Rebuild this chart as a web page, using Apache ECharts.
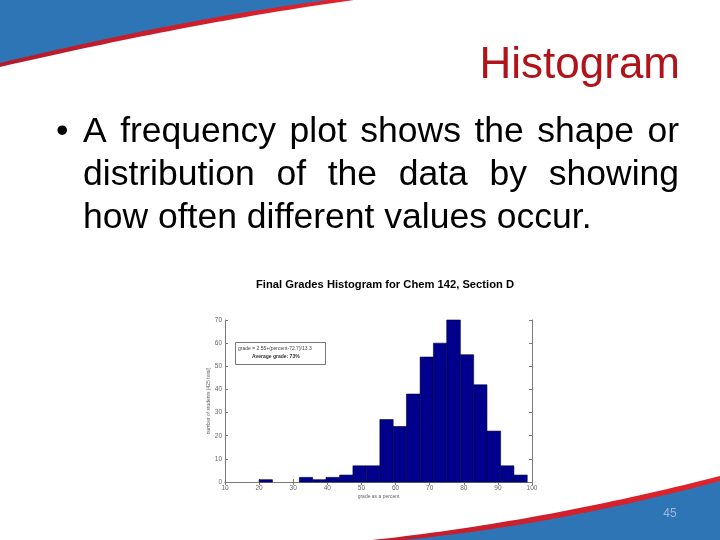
<!DOCTYPE html>
<html><head><meta charset="utf-8">
<script src="https://cdn.jsdelivr.net/npm/echarts/dist/echarts.min.js"></script>
<style>html,body{margin:0;padding:0;background:#fff}#c{width:720px;height:540px}</style>
</head><body><div id="c"></div>
<script>
// ---- data ----
const binEdges = [20.0, 23.9, 27.9, 31.8, 35.7, 39.6, 43.6, 47.5, 51.4, 55.4, 59.3, 63.2, 67.2, 71.1, 75.0, 79.0, 82.9, 86.8, 90.8, 94.7, 98.6];
const counts   = [1, 0, 0, 2, 1, 2, 3, 7, 7, 27, 24, 38, 54, 60, 70, 55, 42, 22, 7, 3];
const xTickMin = 10, xTickMax = 100, xTickStep = 10;
const yTickMin = 0, yTickMax = 70, yTickStep = 10;
const slideTitle = 'Histogram';
const bulletLines = ['A frequency plot shows the shape or', 'distribution of the data by showing', 'how often different values occur.'];
const chartTitle = 'Final Grades Histogram for Chem 142, Section D';
const xName = 'grade as a percent';
const yName = 'number of students (425 total)';
const noteLines = ['grade = 2.55+(percent-72.7)/13.3', 'Average grade: 73%'];
const pageNum = '45';

// ---- helpers ----
const cv = document.createElement('canvas').getContext('2d');
function measure(t, font) { cv.font = font; return cv.measureText(t).width; }
function quad(p0, p1, p2, n) {
  const pts = [];
  for (let i = 0; i <= n; i++) {
    const t = i / n, a = (1-t)*(1-t), b = 2*(1-t)*t, c = t*t;
    pts.push([a*p0[0]+b*p1[0]+c*p2[0], a*p0[1]+b*p1[1]+c*p2[1]]);
  }
  return pts;
}

const FAM = "'Liberation Sans', Arial, sans-serif";
const bodySize = 35.5;
const bodyFont = bodySize + 'px ' + FAM;
const titleSize = 44;
const MID = 0.347; // em-box middle above baseline
const graphics = [];

// swooshes
const redTop = [[0,0]].concat(quad([376,-3],[208,19],[0,67],40));
const blueTop = [[0,0]].concat(quad([345,-2],[200,15],[0,63],40));
const redBot = quad([372,540],[540,522],[720,476],40).concat([[720,540]]);
const blueBot = quad([392,541],[548,527],[720,481],40).concat([[720,541]]);
graphics.push({type:'polygon', z:1, shape:{points:redTop},
  style:{fill:{type:'linear',x:0,y:0,x2:1,y2:0,colorStops:[{offset:0,color:'#b21c2e'},{offset:1,color:'#e8222a'}]}}});
graphics.push({type:'polygon', z:2, shape:{points:blueTop}, style:{fill:'#2e75b6'}});
graphics.push({type:'polygon', z:1, shape:{points:redBot},
  style:{fill:{type:'linear',x:0,y:0,x2:1,y2:0,colorStops:[{offset:0,color:'#c01c2c'},{offset:1,color:'#e0242c'}]}}});
graphics.push({type:'polygon', z:2, shape:{points:blueBot}, style:{fill:'#2e75b6'}});
graphics.push({type:'text', z:3, x:670, y:514, style:{text:pageNum, font:'12px '+FAM, fill:'#9fb9de', align:'center', verticalAlign:'middle'}});

// slide title
graphics.push({type:'text', z:3, x:680, y:81 - MID*titleSize, style:{text:slideTitle, font:titleSize+'px '+FAM, fill:'#b01319', align:'right', verticalAlign:'middle'}});

// bullet
const L = 83, R = 679, baselines = [145, 188, 231];
graphics.push({type:'text', z:3, x:56, y:baselines[0] - MID*bodySize, style:{text:'\u2022', font:bodyFont, fill:'#000', verticalAlign:'middle'}});
bulletLines.forEach((line, i) => {
  const words = line.split(' ');
  const widths = words.map(w => measure(w, bodyFont));
  let gap = measure(' ', bodyFont);
  if (i < bulletLines.length - 1) {
    const tot = widths.reduce((a,b)=>a+b,0);
    gap = (R - L - tot) / (words.length - 1);
  }
  let x = L;
  words.forEach((w, j) => {
    graphics.push({type:'text', z:3, x:x, y:baselines[i] - MID*bodySize, style:{text:w, font:bodyFont, fill:'#000', verticalAlign:'middle'}});
    x += widths[j] + gap;
  });
});

// chart title (fit to width)
const ctFont = 'bold 11.5px ' + FAM;
const ctW = measure(chartTitle, ctFont);
graphics.push({type:'text', z:3, x:256, y:285, scaleX:258/ctW, style:{text:chartTitle, font:ctFont, fill:'#000', verticalAlign:'middle'}});

// annotation box
graphics.push({type:'rect', z:4, shape:{x:235.5, y:342.5, width:90, height:22}, style:{fill:'#fff', stroke:'#555', lineWidth:0.8}});
graphics.push({type:'text', z:5, x:238, y:349, style:{text:noteLines[0], font:'5px '+FAM, fill:'#444', verticalAlign:'middle'}});
graphics.push({type:'text', z:5, x:252, y:357, style:{text:noteLines[1], font:'bold 5px '+FAM, fill:'#333', verticalAlign:'middle'}});

const frame = {show:true, lineStyle:{color:'#7a7a7a', width:1}};
const tick = {show:true, inside:true, length:3, lineStyle:{color:'#7a7a7a', width:1}};
const lab = {fontSize:6.5, color:'#666', fontFamily:FAM};

const data = counts.map((c,i)=>[binEdges[i], binEdges[i+1], c]).filter(d=>d[2]>0);

const chart = echarts.init(document.getElementById('c'), null, {renderer:'canvas'});
chart.setOption({
  animation:false,
  backgroundColor:'#fff',
  grid:{left:225, right:188, top:320, bottom:58},
  xAxis:[
    {type:'value', min:xTickMin, max:xTickMax, interval:xTickStep, position:'bottom', axisLine:frame, axisTick:tick,
     axisLabel:Object.assign({margin:3}, lab), splitLine:{show:false},
     name:xName, nameLocation:'middle', nameGap:12, nameTextStyle:{fontSize:5, color:'#666', fontFamily:FAM}},
    {type:'value', min:xTickMin, max:xTickMax, interval:xTickStep, position:'top', axisLine:frame, axisTick:tick,
     axisLabel:{show:false}, splitLine:{show:false}}
  ],
  yAxis:[
    {type:'value', min:yTickMin, max:yTickMax, interval:yTickStep, position:'left', axisLine:frame, axisTick:tick,
     axisLabel:Object.assign({margin:3}, lab), splitLine:{show:false},
     name:yName, nameLocation:'middle', nameGap:11, nameTextStyle:{fontSize:5, color:'#666', fontFamily:FAM}},
    {type:'value', min:yTickMin, max:yTickMax, interval:yTickStep, position:'right', axisLine:frame, axisTick:tick,
     axisLabel:{show:false}, splitLine:{show:false}}
  ],
  series:[{
    type:'custom', xAxisIndex:0, yAxisIndex:0, data:data, encode:{x:[0,1], y:2},
    renderItem:function(params, api){
      const p0 = api.coord([api.value(0), api.value(2)]);
      const p1 = api.coord([api.value(1), 0]);
      return {type:'rect', shape:{x:p0[0], y:p0[1], width:p1[0]-p0[0], height:p1[1]-p0[1]},
        style:{fill:'#00008c', stroke:'#00003a', lineWidth:0.6}};
    }
  }],
  graphic:graphics
});
</script></body></html>
